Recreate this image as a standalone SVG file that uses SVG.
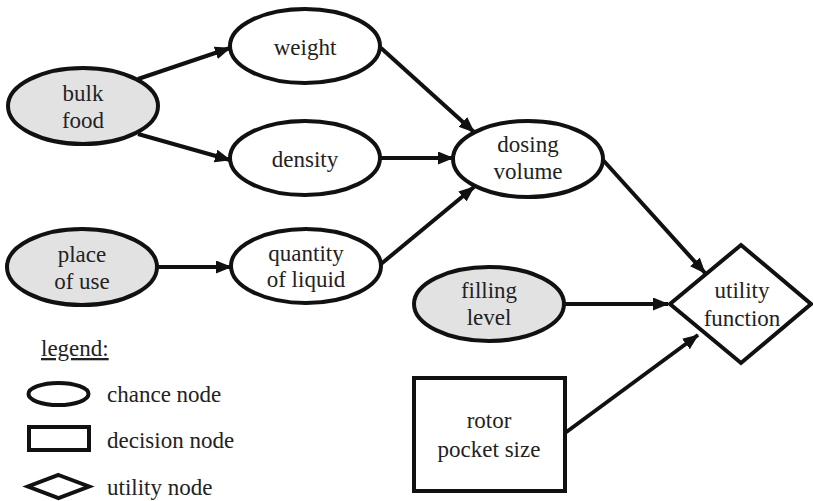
<svg xmlns="http://www.w3.org/2000/svg" width="813" height="501" viewBox="0 0 813 501" font-family="Liberation Serif, Times New Roman, serif">
<style>
.n{fill:#fff;stroke:#111;stroke-width:4}
.g{fill:#e2e2e2}
text{font-size:23px;fill:#222;text-anchor:middle}
.l{text-anchor:start}
.c{fill:none;stroke:#111;stroke-width:4;marker-end:url(#a)}
</style>
<defs>
<marker id="a" markerUnits="userSpaceOnUse" markerWidth="18" markerHeight="14" refX="15" refY="6.5" orient="auto">
<path d="M0,0 L16,6.5 L0,13 z" fill="#111"/>
</marker>
</defs>
<g id="connectors">
<line class="c" x1="138" y1="79" x2="230" y2="48"/>
<line class="c" x1="138" y1="134" x2="230" y2="160"/>
<line class="c" x1="157" y1="267" x2="231" y2="267"/>
<line class="c" x1="381" y1="48" x2="474" y2="132"/>
<line class="c" x1="381" y1="158" x2="453" y2="158"/>
<line class="c" x1="381" y1="264" x2="474" y2="187"/>
<line class="c" x1="603" y1="160" x2="705" y2="273"/>
<line class="c" x1="564" y1="304" x2="668" y2="304"/>
<line class="c" x1="565" y1="433" x2="698" y2="335"/>
</g>
<g id="bulk-food">
<ellipse class="n g" cx="83" cy="106" rx="75" ry="38"/>
<text x="83" y="101" font-family="Liberation Serif">bulk</text>
<text x="83" y="128" font-family="Liberation Serif">food</text>
</g>
<g id="weight">
<ellipse class="n" cx="305" cy="46" rx="75" ry="37"/>
<text x="305" y="55">weight</text>
</g>
<g id="density">
<ellipse class="n" cx="305" cy="158" rx="75" ry="37"/>
<text x="305" y="167">density</text>
</g>
<g id="dosing-volume">
<ellipse class="n" cx="528" cy="159" rx="75" ry="38"/>
<text x="528" y="152">dosing</text>
<text x="528" y="179">volume</text>
</g>
<g id="place-of-use">
<ellipse class="n g" cx="82" cy="267" rx="75" ry="38"/>
<text x="82" y="262">place</text>
<text x="82" y="289">of use</text>
</g>
<g id="quantity-of-liquid">
<ellipse class="n" cx="306" cy="266" rx="75" ry="37"/>
<text x="306" y="261">quantity</text>
<text x="306" y="287">of liquid</text>
</g>
<g id="filling-level">
<ellipse class="n g" cx="489" cy="304" rx="75" ry="37"/>
<text x="489" y="298">filling</text>
<text x="489" y="325">level</text>
</g>
<g id="utility-function">
<polygon class="n" points="741,245 811,304 741,363 670,304"/>
<text x="742" y="298">utility</text>
<text x="742" y="326">function</text>
</g>
<g id="rotor-pocket-size">
<rect class="n" x="414" y="378" width="151" height="113"/>
<text x="489" y="428">rotor</text>
<text x="489" y="457">pocket size</text>
</g>
<g id="legend">
<text class="l" x="41" y="356" text-decoration="underline">legend:</text>
<ellipse class="n" cx="58.5" cy="394" rx="30" ry="11"/>
<text class="l" x="107" y="402">chance node</text>
<rect class="n" x="29" y="427" width="60" height="23"/>
<text class="l" x="107" y="448">decision node</text>
<polygon class="n" points="58.5,475 89,486.5 58.5,498 28,486.5"/>
<text class="l" x="107" y="495">utility node</text>
</g>
</svg>
